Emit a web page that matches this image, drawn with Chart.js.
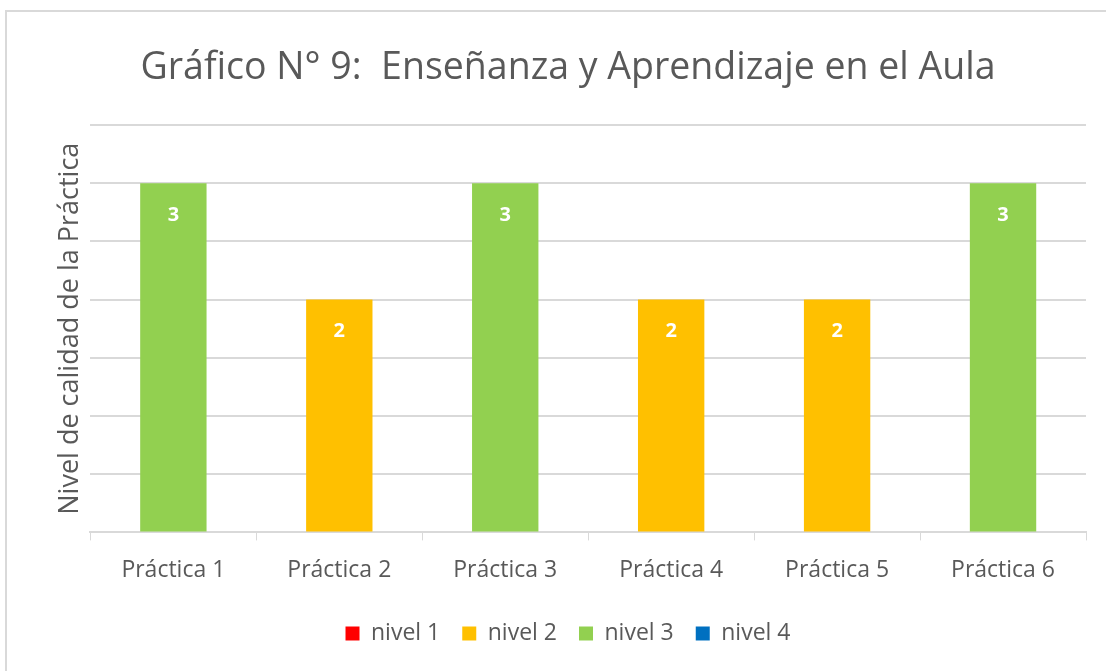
<!DOCTYPE html>
<html lang="es">
<head>
<meta charset="utf-8">
<title>Gráfico N° 9</title>
<script src="https://cdn.jsdelivr.net/npm/chart.js@4.4.0/dist/chart.umd.min.js"></script>
<style>
    html, body { margin: 0; padding: 0; background: #ffffff; overflow: hidden; }
    .frame {
        position: absolute;
        left: 5px;
        top: 10px;
        width: 1120px;
        height: 700px;
        border: 2px solid #d9d9d9;
    }
    #chart {
        position: absolute;
        left: 0;
        top: 0;
    }
</style>
</head>
<body>
<div class="frame"></div>
<canvas id="chart" width="1106" height="671"></canvas>
<script>
// Chart data
const categories = ['Práctica 1', 'Práctica 2', 'Práctica 3', 'Práctica 4', 'Práctica 5', 'Práctica 6'];
const practiceLevels = [3, 2, 3, 2, 2, 3];
const levelNames = ['nivel 1', 'nivel 2', 'nivel 3', 'nivel 4'];
const levelValues = [1, 2, 3, 4];
const levelColors = ['#ff0000', '#ffc000', '#92d050', '#0070c0'];

const textColor = '#595959';
const fontFamily = "'Open Sans', 'Noto Sans', sans-serif";

// One dataset per level; a bar only shows up in the dataset matching its level
const datasets = levelNames.map((name, i) => ({
    label: name,
    data: practiceLevels.map(v => (v === levelValues[i] ? v : null)),
    backgroundColor: levelColors[i],
    borderWidth: 0,
    categoryPercentage: 1,
    barPercentage: 0.4
}));

// White value labels inside the top of each bar
const barLabels = {
    id: 'barLabels',
    afterDatasetsDraw(chart) {
        const ctx = chart.ctx;
        ctx.save();
        ctx.fillStyle = '#ffffff';
        ctx.font = "bold 20px " + fontFamily;
        ctx.textAlign = 'center';
        ctx.textBaseline = 'middle';
        chart.data.datasets.forEach((ds, di) => {
            const meta = chart.getDatasetMeta(di);
            meta.data.forEach((bar, j) => {
                const value = ds.data[j];
                if (value === null) return;
                ctx.fillText(String(value), bar.x, bar.y + 32);
            });
        });
        ctx.restore();
    }
};

new Chart(document.getElementById('chart'), {
    type: 'bar',
    data: { labels: categories, datasets: datasets },
    plugins: [barLabels],
    options: {
        responsive: false,
        animation: false,
        layout: { padding: { left: 50, right: 20, top: 46, bottom: 16 } },
        scales: {
            x: {
                stacked: true,
                grid: {
                    offset: true,
                    drawOnChartArea: false,
                    color: '#d9d9d9',
                    tickLength: 8
                },
                border: { color: '#d9d9d9', width: 2 },
                ticks: { color: textColor, font: { family: fontFamily, size: 23 }, padding: 16 }
            },
            y: {
                stacked: true,
                min: 0,
                max: 3.5,
                ticks: { stepSize: 0.5, display: false },
                grid: { color: '#d9d9d9', lineWidth: 2, drawTicks: false },
                border: { display: false },
                title: {
                    display: true,
                    text: 'Nivel de calidad de la Práctica',
                    color: textColor,
                    font: { family: fontFamily, size: 27 }
                }
            }
        },
        plugins: {
            title: {
                display: true,
                text: 'Gráfico N° 9:  Enseñanza y Aprendizaje en el Aula',
                color: textColor,
                font: { family: fontFamily, size: 37.5, weight: 'normal' },
                padding: { top: 0, bottom: 34 }
            },
            legend: {
                position: 'bottom',
                labels: {
                    color: textColor,
                    font: { family: fontFamily, size: 23 },
                    boxWidth: 14,
                    boxHeight: 14,
                    padding: 22
                }
            },
            tooltip: { enabled: false }
        }
    }
});
</script>
</body>
</html>
